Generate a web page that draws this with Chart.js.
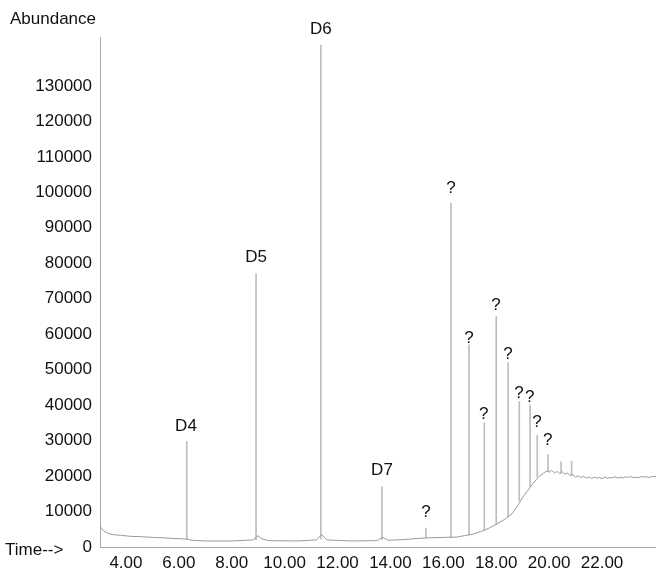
<!DOCTYPE html>
<html>
<head>
<meta charset="utf-8">
<script src="https://cdn.jsdelivr.net/npm/chart.js@4/dist/chart.umd.min.js"></script>
<style>
  html, body { margin: 0; padding: 0; background: #fff; }
  canvas { display: block; }
</style>
</head>
<body>
<canvas id="chrom" width="656" height="572"></canvas>
<script>
// baseline trace (time in min, abundance)
const baseTimes = [3.02, 3.15, 3.3, 3.5, 3.8, 4.2, 4.6, 5.0, 5.4, 5.8, 6.1, 6.3, 6.5, 7.0, 8.0, 8.8, 9.0, 9.1, 9.4,
  10.5, 11.2, 11.4, 11.6, 12.5, 13.5, 13.7, 13.9, 14.5, 15.0, 15.5, 16.0, 16.5, 16.8, 17.1, 17.4, 17.7, 18.0,
  18.3, 18.6, 18.8, 19.0, 19.2, 19.4, 19.6, 19.8, 19.9, 20.0, 20.1, 20.2, 20.3, 20.4, 20.5, 20.6, 20.7, 20.8,
  20.9, 21.0, 21.1, 21.2, 21.3, 21.4, 21.5, 21.6, 21.7, 21.8, 21.9, 22.0, 22.1, 22.2, 22.3, 22.4, 22.5, 22.6,
  22.7, 22.8, 22.9, 23.0, 23.1, 23.2, 23.3, 23.4, 23.5, 23.6, 23.7, 23.8, 23.9, 24.04];
const baseValues = [5800, 4600, 3900, 3500, 3300, 3000, 2900, 2700, 2600, 2400, 2300, 2200, 1900, 1700, 1700, 2000, 3200, 2400, 1800,
  1700, 2000, 3500, 2000, 1700, 1800, 2800, 1900, 2100, 2400, 2600, 2700, 2800, 3200, 3600, 4300, 5200, 6400,
  7700, 9400, 11500, 14000, 16000, 18000, 19800, 20900, 21400, 21100, 21600, 20900, 21300, 20700, 21200, 20500, 20900, 20100,
  20400, 19700, 20100, 19600, 19900, 19400, 19800, 19300, 19700, 19400, 19600, 19300, 19700, 19400, 19600, 19500, 19800, 19400,
  19700, 19500, 19800, 19600, 19900, 19500, 19700, 19600, 19900, 19700, 19800, 19600, 19900, 19800];

// narrow peaks
const peakTimes = [6.30, 8.92, 11.37, 13.68, 15.34, 16.29, 16.97, 17.55, 18.00, 18.45, 18.87, 19.28, 19.55, 19.96, 20.45, 20.85];
const peakBases = [2200, 2000, 2200, 2000, 2600, 2800, 3400, 4700, 6400, 8500, 13000, 17000, 19800, 21300, 20800, 20300];
const peakTops = [29800, 77000, 141500, 17000, 5300, 97000, 57000, 35000, 65000, 52000, 41000, 40000, 31500, 26000, 24000, 24200];

// peak annotations
const labelTexts = ["D4", "D5", "D6", "D7", "?", "?", "?", "?", "?", "?", "?", "?", "?", "?"];
const labelTimes = [6.27, 8.92, 11.37, 13.68, 15.34, 16.29, 16.97, 17.99, 17.53, 18.44, 18.86, 19.27, 19.54, 19.95];
const labelValues = [34100, 81800, 146000, 21700, 9900, 101200, 58900, 68200, 37500, 54400, 43400, 42300, 35200, 30200];

const xTicks = [4, 6, 8, 10, 12, 14, 16, 18, 20, 22];
const yTicks = [0, 10000, 20000, 30000, 40000, 50000, 60000, 70000, 80000, 90000, 100000, 110000, 120000, 130000];

const FONT = { family: "'Liberation Sans', Arial, sans-serif", size: 17 };

const textPlugin = {
  id: "peakText",
  afterDraw(chart) {
    const { ctx, scales } = chart;
    ctx.save();
    ctx.fillStyle = "#111";
    ctx.font = `${FONT.size}px ${FONT.family}`;
    ctx.textAlign = "center";
    ctx.textBaseline = "middle";
    labelTexts.forEach((t, i) => {
      ctx.fillText(t, scales.x.getPixelForValue(labelTimes[i]), scales.y.getPixelForValue(labelValues[i]));
    });
    ctx.textAlign = "left";
    ctx.fillText("Abundance", 10, 19);
    ctx.fillText("Time-->", 5, 550);
    ctx.restore();
  }
};

new Chart(document.getElementById("chrom"), {
  data: {
    datasets: [
      {
        type: "line",
        data: baseTimes.map((t, i) => ({ x: t, y: baseValues[i] })),
        borderColor: "#9a9a9a",
        borderWidth: 1,
        pointRadius: 0,
        tension: 0
      },
      {
        type: "bar",
        data: peakTimes.map((t, i) => ({ x: t, y: [peakBases[i], peakTops[i]] })),
        backgroundColor: "#bdbdbd",
        borderWidth: 0,
        barThickness: 1
      }
    ]
  },
  options: {
    responsive: false,
    animation: false,
    layout: { padding: { top: 37, right: 0, left: 0, bottom: 0 } },
    plugins: { legend: { display: false }, tooltip: { enabled: false } },
    scales: {
      x: {
        type: "linear",
        min: 3.02,
        max: 24.04,
        offset: false,
        afterBuildTicks: (s) => { s.ticks = xTicks.map((v) => ({ value: v })); },
        afterFit: (s) => { s.height = 25; },
        grid: { display: false, drawTicks: false },
        border: { display: true, dash: [1, 3], color: "#aaa" },
        ticks: { font: FONT, color: "#111", padding: 6, maxRotation: 0, callback: (v) => Number(v).toFixed(2) }
      },
      y: {
        min: 0,
        max: 143800,
        afterBuildTicks: (s) => { s.ticks = yTicks.map((v) => ({ value: v })); },
        afterFit: (s) => { s.width = 100; },
        grid: { display: false, drawTicks: false },
        border: { display: true, dash: [1, 3], color: "#aaa" },
        ticks: { font: FONT, color: "#111", padding: 8, callback: (v) => String(v) }
      }
    }
  },
  plugins: [textPlugin]
});
</script>
</body>
</html>
